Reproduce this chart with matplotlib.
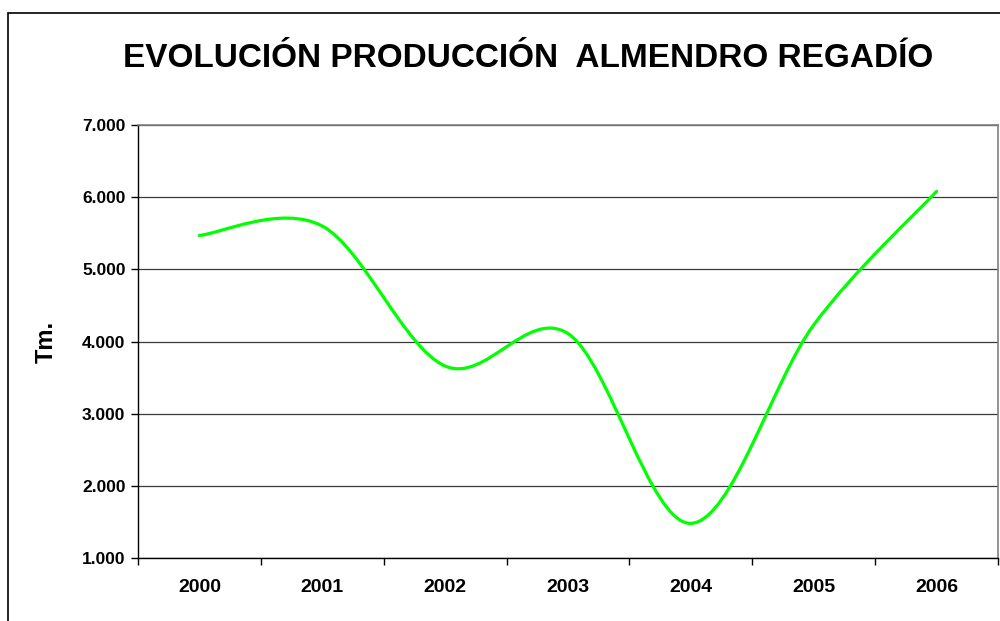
import numpy as np
import matplotlib
matplotlib.use('Agg')
import matplotlib.pyplot as plt
from matplotlib.path import Path
from matplotlib.patches import PathPatch, Rectangle
from matplotlib.ticker import FixedLocator, FuncFormatter

# ── Data ─────────────────────────────────────────────────────
YEARS = ['2000', '2001', '2002', '2003', '2004', '2005', '2006']
PRODUCCION = [5470, 5600, 3660, 4110, 1480, 4230, 6080]   # Tm.

TITLE = 'EVOLUCIÓN PRODUCCIÓN  ALMENDRO REGADÍO'
YLABEL = 'Tm.'

plt.rcParams.update({'font.family': ['Liberation Sans', 'DejaVu Sans'],
                     'font.weight': 'bold'})


def smooth_path(xs, ys):
    """Excel-style smoothed line: cubic Bezier through every point."""
    pts = np.column_stack([xs, ys]).astype(float)
    n = len(pts)
    verts = [pts[0]]
    codes = [Path.MOVETO]
    for i in range(n - 1):
        p0 = pts[max(i - 1, 0)]
        p1 = pts[i]
        p2 = pts[i + 1]
        p3 = pts[min(i + 2, n - 1)]
        c1 = p1 + (p2 - p0) / 6.0
        c2 = p2 - (p3 - p1) / 6.0
        verts += [c1, c2, p2]
        codes += [Path.CURVE4] * 3
    return Path(verts, codes)


fig = plt.figure(figsize=(10, 6.21), dpi=100)
ax = fig.add_axes([0.138, 0.1014, 0.86, 0.6973])

x = np.arange(len(YEARS))
ax.add_patch(PathPatch(smooth_path(x, PRODUCCION), fc='none', ec='#00FF00',
                       lw=2.3, capstyle='round', joinstyle='round', zorder=3))

ax.set_xlim(-0.5, len(YEARS) - 0.5)
ax.set_ylim(1000, 7000)

# x axis: ticks between categories, labels centred on categories
ax.xaxis.set_major_locator(FixedLocator(np.arange(len(YEARS) + 1) - 0.5))
ax.xaxis.set_minor_locator(FixedLocator(x))
ax.xaxis.set_major_formatter(FuncFormatter(lambda v, p: ''))
ax.xaxis.set_minor_formatter(FuncFormatter(lambda v, p: YEARS[int(round(v))]))
ax.tick_params(axis='x', which='major', direction='out', length=5, width=1, color='black')
ax.tick_params(axis='x', which='minor', length=0, pad=15, labelsize=14)

ax.set_yticks(np.arange(1000, 7001, 1000))
ax.yaxis.set_major_formatter(FuncFormatter(lambda v, p: f'{int(v):,}'.replace(',', '.')))
ax.tick_params(axis='y', direction='out', length=5, width=1, color='black', pad=4, labelsize=12.5)

ax.grid(axis='y', color='#3a3a3a', lw=0.9)
ax.set_axisbelow(True)

for s in ['left', 'bottom']:
    ax.spines[s].set_color('black'); ax.spines[s].set_linewidth(1.0)
for s in ['top', 'right']:
    ax.spines[s].set_color('#808080'); ax.spines[s].set_linewidth(1.2)

fig.text(0.046, 0.449, YLABEL, rotation=90, ha='center', va='center',
         fontsize=17, fontweight='bold')
fig.text(0.528, 0.906, TITLE, ha='center', va='center', fontsize=24, fontweight='bold')

# outer chart-area border
fig.add_artist(Rectangle((0.008, -0.5), 1.5, 1.5 - 13 / 621, transform=fig.transFigure,
                         fc='none', ec='black', lw=1.2))

fig.savefig('out.png', dpi=100, facecolor='white')
